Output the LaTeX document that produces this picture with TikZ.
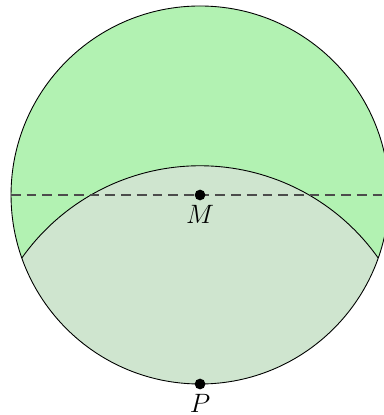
\documentclass[tikz,border=0pt]{standalone}
\usetikzlibrary{calc}
\definecolor{upgreen}{RGB}{178,242,178}
\definecolor{lensgreen}{RGB}{207,229,207}
\tikzset{
  dotnode/.style={circle,fill=black,inner sep=0pt,minimum size=0.17cm},
  outline/.style={draw=black,line width=0.4pt},
  midline/.style={draw=black!70,line width=0.6pt,dash pattern=on 4.4pt off 2.7pt},
  ptlabel/.style={font=\large,inner sep=0.3pt,label distance=1.4pt},
}
\begin{document}
\begin{tikzpicture}
\useasboundingbox (-3.175,-3.492) rectangle (2.905,3.095);
\coordinate (M0) at (0,0);
\coordinate (P0) at (0,-3);
% big circle
\fill[upgreen] (M0) circle (3);
\begin{scope}
  \clip (M0) circle (3);
  \fill[lensgreen] (P0) circle (3.4641);
\end{scope}
\draw[outline] (M0) circle (3);
\draw[outline] (-2.8284,-1) arc[start angle=144.7356,end angle=35.2644,radius=3.4641];
% dashed line
\coordinate (L) at (-3,0);
\coordinate (R) at (2.905,0);
\draw[midline] (L) -- (R);
\node[dotnode,label={[ptlabel]below:$M$}] (M) at (M0) {};
\node[dotnode,label={[ptlabel]below:$P$}] (P) at (P0) {};
\end{tikzpicture}
\end{document}
